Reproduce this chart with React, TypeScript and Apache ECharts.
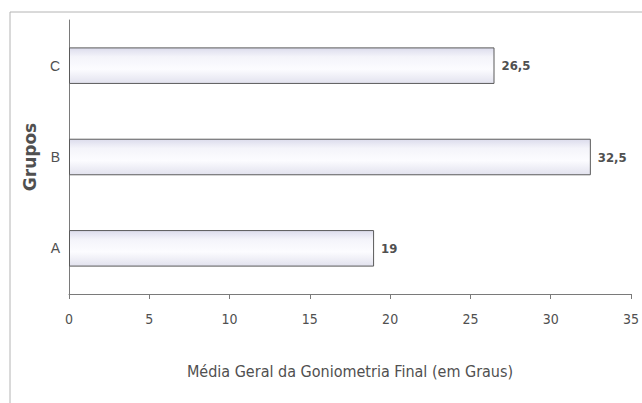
import React, { useEffect, useRef } from "react";
import * as echarts from "echarts";

const categories = ["A", "B", "C"];
const values = [19, 32.5, 26.5];
const xTicks = [0, 5, 10, 15, 20, 25, 30, 35];

const FONT = "'DejaVu Sans Condensed', 'Liberation Sans Narrow', 'Liberation Sans', Arial, sans-serif";

export default function App() {
  const ref = useRef<HTMLDivElement>(null);
  useEffect(() => {
    if (!ref.current) return;
    const chart = echarts.init(ref.current, null, { renderer: "svg" });
    chart.setOption({
      animation: false,
      backgroundColor: "#ffffff",
      graphic: [
        {
          type: "rect",
          shape: { x: 10, y: 12, width: 700, height: 500 },
          style: { fill: "none", stroke: "#b4b4b4", lineWidth: 1 },
          silent: true,
          z: -1,
        },
      ],
      grid: { left: 69, right: 5, top: 20, bottom: 109, containLabel: false },
      xAxis: {
        type: "value",
        min: xTicks[0],
        max: xTicks[xTicks.length - 1],
        interval: 5,
        name: "Média Geral da Goniometria Final (em Graus)",
        nameLocation: "middle",
        nameGap: 69,
        nameTextStyle: { fontFamily: FONT, fontSize: 16, color: "#505050" },
        axisLine: { show: true, lineStyle: { color: "#7a7a7a", width: 1 } },
        axisTick: { show: true, length: 5, lineStyle: { color: "#7a7a7a" } },
        axisLabel: {
          margin: 18,
          fontFamily: FONT,
          fontSize: 14,
          color: "#505050",
          formatter: (v: number) => String(v),
        },
        splitLine: { show: false },
      },
      yAxis: {
        type: "category",
        data: categories,
        name: "Grupos",
        nameLocation: "middle",
        nameGap: 29,
        nameRotate: 90,
        nameTextStyle: {
          fontFamily: "'DejaVu Sans', sans-serif",
          fontSize: 17,
          color: "#505050",
          fontWeight: "bold",
        },
        axisLine: { show: true, lineStyle: { color: "#7a7a7a", width: 1 } },
        axisTick: { show: false },
        axisLabel: {
          margin: 9,
          fontFamily: "'Liberation Sans', Arial, sans-serif",
          fontSize: 14,
          color: "#505050",
        },
      },
      series: [
        {
          type: "bar",
          data: values,
          barWidth: "40%",
          itemStyle: {
            color: new echarts.graphic.LinearGradient(0, 0, 0, 1, [
              { offset: 0, color: "#dcdcec" },
              { offset: 0.25, color: "#f4f4fa" },
              { offset: 0.6, color: "#fcfcff" },
              { offset: 1, color: "#e2e2ee" },
            ]),
            borderColor: "#5a5a5a",
            borderWidth: 1,
          },
          label: {
            show: true,
            position: "right",
            distance: 7,
            fontFamily: FONT,
            fontSize: 13,
            fontWeight: "bold",
            color: "#505050",
            formatter: (p: any) => String(p.value).replace(".", ","),
          },
        },
      ],
    });
    return () => chart.dispose();
  }, []);
  return (
    <div
      ref={ref}
      style={{ position: "fixed", left: 0, top: 0, width: 642, height: 403 }}
    />
  );
}
